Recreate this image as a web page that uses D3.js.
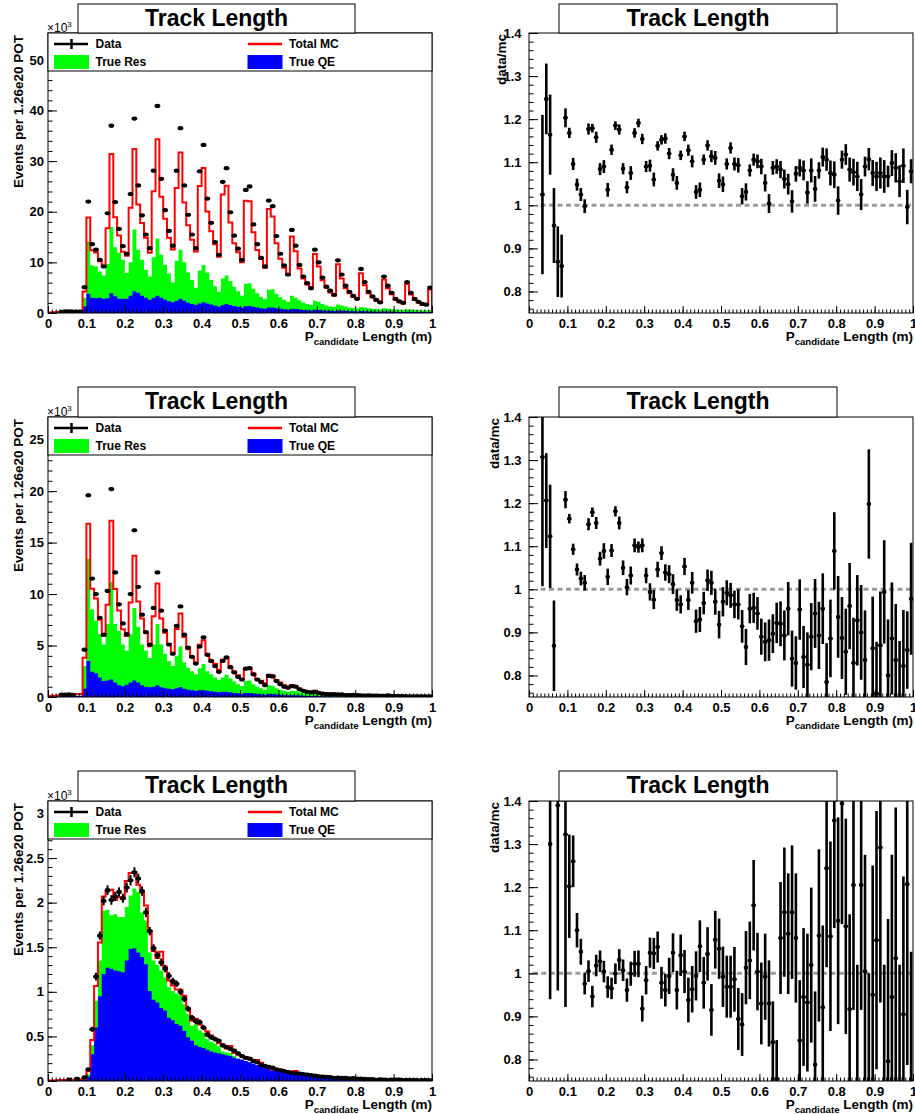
<!DOCTYPE html>
<html><head><meta charset="utf-8">
<script src="https://cdn.jsdelivr.net/npm/d3@7"></script>
<style>
body{margin:0;background:#fff;}
svg{display:block;font-family:"Liberation Sans",Arial,Helvetica,sans-serif;font-weight:bold;}
</style></head><body>
<svg id="c" width="915" height="1114"></svg>
<script>
// ---- binning: 100 bins of track length, 0 to 1 m ----
const binLow = 0, binHigh = 1, binCount = 100;
const xTicks = [0, 0.1, 0.2, 0.3, 0.4, 0.5, 0.6, 0.7, 0.8, 0.9, 1];
const yTicksRatio = [0.8, 0.9, 1, 1.1, 1.2, 1.3, 1.4];
const yTicks1 = [0, 10, 20, 30, 40, 50];
const yTicks2 = [0, 5, 10, 15, 20, 25];
const yTicks3 = [0, 0.5, 1, 1.5, 2, 2.5, 3];
const legendLabels = ["Data", "Total MC", "True Res", "True QE"];
const titleText = "Track Length";

// ---- sample 1 (units of 1e3 events) ----
const data1 = [
 null,null,null,0.21,0.31,0.35,0.29,0.30,0.30,5.1,
 22.0,13.6,12.5,10.5,9.2,19.7,37.0,21.9,16.6,13.2,
 11.7,23.5,38.4,25.2,19.3,15.5,12.8,28.1,40.9,26.5,
 20.3,16.2,13.3,28.1,36.5,25.2,19.4,15.5,12.8,28.0,
 33.2,22.6,17.8,14.0,11.5,25.9,28.6,19.9,15.3,12.7,
 10.5,24.3,25.0,17.5,13.6,10.9,9.2,22.2,21.1,15.2,
 11.7,9.4,7.6,16.4,13.3,9.5,7.2,5.9,4.9,12.5,
 10.0,7.0,5.2,4.4,3.6,10.4,7.6,5.4,4.2,3.4,
 2.8,8.7,6.1,4.2,3.3,2.6,2.1,7.2,5.4,4.0,
 2.8,2.3,2.0,6.1,4.0,2.8,2.2,1.8,1.65,5.0];
const mc1 = [
 0.10,0.15,0.20,0.20,0.25,0.30,0.30,0.35,0.35,4.25,
 18.84,12.41,11.93,10.24,9.22,16.74,31.38,18.91,15.31,12.11,
 11.29,20.81,32.41,21.43,17.79,14.88,11.91,24.06,34.34,22.96,
 18.62,14.84,12.55,24.69,31.68,21.82,17.32,14.47,12.17,25.09,
 28.62,20.04,16.15,13.58,11.10,23.42,25.11,17.86,13.78,12.02,
 10.01,22.17,22.07,15.97,12.44,10.68,8.92,20.54,19.08,13.79,
 10.73,8.94,7.57,15.09,12.20,8.77,6.79,5.62,4.86,11.65,
 9.20,6.48,5.05,4.07,3.47,9.62,6.83,4.88,3.91,3.17,
 2.77,7.87,5.46,3.88,3.06,2.44,2.05,6.61,4.88,3.72,
 2.62,2.14,1.87,5.72,3.64,2.58,2.08,1.65,1.66,4.63];
const res1 = [
 0.02,0.03,0.04,0.05,0.06,0.07,0.08,0.09,0.10,3.0,
 14.1,9.4,9.2,8.2,7.4,9.7,17.0,13.0,11.9,10.5,
 7.9,10.0,16.5,12.5,10.5,8.5,7.2,11.0,14.7,11.5,
 9.5,7.8,6.0,10.3,12.5,10.0,8.0,6.5,5.0,8.4,
 9.5,8.0,6.5,5.3,4.2,6.8,7.4,6.3,5.2,4.3,
 3.4,5.8,5.9,4.8,3.9,3.2,2.7,4.6,4.7,3.8,
 3.1,2.6,2.2,3.4,3.0,2.5,2.0,1.8,1.6,2.4,
 2.2,1.8,1.5,1.3,1.2,1.7,1.5,1.3,1.1,1.0,
 0.9,1.2,1.1,0.95,0.85,0.8,0.7,0.95,0.85,0.75,
 0.7,0.65,0.6,0.75,0.7,0.6,0.55,0.5,0.5,0.6];
const qe1 = [
 0.05,0.08,0.10,0.10,0.12,0.12,0.15,0.15,0.18,1.3,
 3.8,3.0,2.9,3.0,2.8,2.9,3.9,3.3,2.8,2.8,
 2.8,3.4,4.3,4.0,3.4,3.0,2.6,3.0,3.4,3.0,
 2.6,2.3,2.1,2.4,2.8,2.4,2.0,1.8,1.65,1.9,
 2.1,1.9,1.7,1.5,1.3,1.6,1.8,1.6,1.4,1.25,
 1.1,1.35,1.4,1.25,1.1,0.95,0.85,1.1,1.1,0.95,
 0.85,0.75,0.65,0.85,0.8,0.7,0.6,0.55,0.5,0.65,
 0.6,0.5,0.45,0.42,0.4,0.5,0.45,0.4,0.36,0.33,
 0.3,0.38,0.35,0.3,0.28,0.26,0.24,0.3,0.28,0.25,
 0.23,0.21,0.2,0.25,0.23,0.2,0.19,0.18,0.17,0.22];
const ratio1 = [
 null,null,null,1.025,1.247,1.164,0.953,0.869,0.859,1.203,
 1.168,1.096,1.048,1.025,0.998,1.177,1.179,1.158,1.084,1.090,
 1.036,1.129,1.185,1.176,1.085,1.042,1.075,1.168,1.191,1.154,
 1.090,1.092,1.060,1.138,1.152,1.155,1.120,1.071,1.052,1.116,
 1.160,1.128,1.102,1.031,1.036,1.106,1.139,1.114,1.110,1.057,
 1.049,1.096,1.133,1.096,1.093,1.021,1.031,1.081,1.106,1.102,
 1.090,1.052,1.004,1.087,1.090,1.083,1.061,1.049,1.009,1.073,
 1.087,1.081,1.030,1.081,1.038,1.081,1.112,1.106,1.075,1.071,
 1.011,1.106,1.118,1.083,1.077,1.067,1.025,1.090,1.107,1.075,
 1.067,1.075,1.067,1.067,1.098,1.087,1.056,1.092,0.996,1.079];
const ratioErr1 = [
 null,null,null,0.185,0.082,0.093,0.087,0.082,0.073,0.022,
 0.012,0.014,0.014,0.015,0.016,0.013,0.010,0.013,0.014,0.015,
 0.016,0.012,0.010,0.012,0.013,0.014,0.016,0.011,0.010,0.012,
 0.013,0.014,0.016,0.011,0.011,0.012,0.013,0.015,0.016,0.011,
 0.011,0.013,0.014,0.016,0.017,0.012,0.012,0.014,0.016,0.017,
 0.018,0.013,0.013,0.015,0.017,0.019,0.020,0.014,0.014,0.016,
 0.018,0.020,0.022,0.016,0.017,0.020,0.022,0.024,0.026,0.018,
 0.020,0.023,0.026,0.028,0.030,0.019,0.022,0.026,0.029,0.031,
 0.033,0.021,0.024,0.028,0.031,0.034,0.036,0.023,0.026,0.030,
 0.034,0.036,0.038,0.025,0.030,0.034,0.037,0.040,0.040,0.028];

// ---- sample 2 ----
const data2 = [
 null,null,null,0.235,0.24,0.247,0.217,null,null,4.6,
 19.6,11.5,10.0,7.7,6.05,10.3,20.2,12.1,9.0,7.15,
 6.1,10.0,16.2,10.7,8.0,6.3,5.1,8.65,12.1,8.4,
 6.45,5.1,4.2,6.9,8.8,6.05,4.8,3.9,3.25,4.9,
 5.8,4.1,3.5,3.0,2.45,3.5,3.85,2.9,2.4,1.95,
 1.7,2.75,2.8,2.2,1.7,1.45,1.15,2.05,2.0,1.55,
 1.25,1.0,0.9,1.05,1.0,0.75,0.6,0.5,0.45,0.5,
 0.4,0.32,0.28,0.276,0.274,0.268,0.258,0.188,0.195,0.218,
 0.178,0.169,0.145,0.154,0.124,0.13,0.117,0.1,0.156,0.095,
 0.076,0.087,0.089,0.072,0.071,0.067,0.052,0.058,0.06,0.059];
const mc2 = [
 0.10,0.12,0.15,0.18,0.20,0.22,0.25,0.28,0.30,3.81,
 16.84,10.52,9.56,7.51,5.96,8.95,17.13,10.49,8.40,6.57,
 5.93,9.17,13.72,9.27,7.62,6.27,4.94,7.85,11.02,7.62,
 6.25,5.13,4.30,6.60,8.12,5.82,4.64,3.85,3.33,5.08,
 5.51,4.21,3.45,3.24,2.63,3.62,3.77,2.86,2.47,2.12,
 1.75,2.77,2.84,2.28,1.76,1.59,1.33,2.15,2.09,1.64,
 1.40,1.14,1.02,1.17,1.08,0.82,0.67,0.52,0.54,0.60,
 0.42,0.38,0.34,0.31,0.29,0.30,0.27,0.24,0.22,0.20,
 0.19,0.19,0.17,0.16,0.15,0.14,0.13,0.12,0.13,0.11,
 0.10,0.10,0.09,0.09,0.08,0.08,0.07,0.07,0.07,0.06];
const res2 = [
 0.03,0.04,0.05,0.06,0.07,0.08,0.09,0.10,0.11,3.0,
 13.4,8.5,7.4,6.1,5.1,7.1,11.2,7.1,6.4,5.1,
 4.5,6.1,8.65,6.8,5.1,4.5,3.8,5.1,7.1,5.1,
 4.2,3.5,3.0,4.0,4.9,3.35,2.85,2.5,2.2,2.8,
 3.2,2.5,2.2,1.9,1.65,1.9,2.15,1.8,1.5,1.25,
 1.07,1.55,1.6,1.25,1.0,0.85,0.7,1.15,1.1,0.85,
 0.7,0.6,0.52,0.6,0.58,0.45,0.38,0.32,0.3,0.33,
 0.25,0.23,0.2,0.18,0.17,0.17,0.15,0.14,0.13,0.12,
 0.11,0.11,0.1,0.09,0.09,0.08,0.075,0.07,0.07,0.065,
 0.06,0.06,0.055,0.05,0.05,0.045,0.045,0.04,0.04,0.035];
const qe2 = [
 0.05,0.06,0.07,0.08,0.09,0.10,0.10,0.11,0.12,0.8,
 3.5,2.45,2.3,1.9,1.55,1.6,1.7,1.4,1.15,1.05,
 1.2,1.4,1.6,1.4,1.15,1.0,0.95,1.0,1.15,0.95,
 0.85,0.8,0.75,0.85,0.98,0.8,0.7,0.65,0.6,0.65,
 0.65,0.6,0.55,0.5,0.45,0.5,0.52,0.45,0.4,0.36,
 0.32,0.38,0.38,0.33,0.29,0.26,0.23,0.3,0.28,0.24,
 0.21,0.18,0.16,0.18,0.17,0.14,0.12,0.1,0.1,0.11,
 0.08,0.075,0.07,0.065,0.06,0.06,0.055,0.05,0.045,0.04,
 0.04,0.04,0.035,0.035,0.03,0.03,0.03,0.025,0.025,0.025,
 0.02,0.02,0.02,0.02,0.02,0.018,0.018,0.016,0.016,0.015];
const ratio2 = [
 null,null,null,1.307,1.206,1.123,0.869,null,null,1.208,
 1.164,1.093,1.046,1.025,1.015,1.151,1.179,1.154,1.071,1.089,
 1.029,1.090,1.181,1.154,1.050,1.005,1.032,1.102,1.098,1.102,
 1.032,0.994,0.976,1.046,1.084,1.039,1.035,1.012,0.975,0.965,
 1.053,0.975,1.015,0.926,0.930,0.968,1.021,1.015,0.971,0.918,
 0.971,0.992,0.986,0.965,0.965,0.914,0.866,0.955,0.957,0.944,
 0.890,0.878,0.882,0.897,0.922,0.920,0.893,0.955,0.839,0.829,
 0.953,0.843,0.825,0.890,0.944,0.893,0.955,0.785,0.886,1.089,
 0.936,0.887,0.855,0.961,0.829,0.928,0.900,0.836,1.198,0.863,
 0.758,0.870,0.994,0.800,0.886,0.836,0.740,0.822,0.859,0.978];
const ratioErr2 = [
 null,null,null,0.30,0.11,0.12,0.105,null,null,0.02,
 0.011,0.013,0.014,0.016,0.018,0.014,0.011,0.014,0.016,0.018,
 0.019,0.015,0.012,0.015,0.017,0.019,0.021,0.016,0.013,0.016,
 0.018,0.020,0.022,0.018,0.016,0.019,0.021,0.023,0.025,0.021,
 0.020,0.023,0.025,0.027,0.029,0.026,0.025,0.028,0.030,0.032,
 0.034,0.029,0.029,0.032,0.035,0.038,0.042,0.034,0.035,0.038,
 0.042,0.045,0.048,0.045,0.047,0.052,0.058,0.062,0.065,0.062,
 0.070,0.072,0.075,0.078,0.080,0.078,0.082,0.090,0.090,0.090,
 0.095,0.095,0.100,0.100,0.105,0.105,0.110,0.115,0.127,0.120,
 0.120,0.125,0.120,0.130,0.130,0.130,0.140,0.130,0.090,0.130];

// ---- sample 3 ----
const data3 = [
 null,null,null,null,null,0.017,null,0.024,null,0.04,
 0.13,0.58,1.17,1.63,2.02,2.14,2.03,2.07,2.12,2.05,
 2.17,2.25,2.34,2.27,2.13,1.89,1.68,1.49,1.41,1.33,
 1.26,1.18,1.12,1.09,1.0,0.92,0.81,0.71,0.67,0.66,
 0.6,0.52,0.49,0.47,0.45,0.40,0.38,0.36,0.34,0.31,
 0.28,0.26,0.25,0.225,0.21,0.18,0.17,0.16,0.15,0.13,
 0.12,0.11,0.10,0.09,0.085,0.082,0.078,0.072,0.066,0.061,
 0.051,0.05,0.047,0.045,0.035,0.039,0.034,0.035,0.030,0.033,
 0.028,0.028,0.024,0.020,0.022,0.013,0.019,0.017,0.011,0.015,
 0.015,0.016,0.009,0.010,0.011,0.011,0.008,0.010,0.011,0.007];
const mc3 = [
 0.005,0.006,0.008,0.010,0.012,0.013,0.015,0.017,0.020,0.030,
 0.108,0.46,1.064,1.552,2.07,2.129,2.146,2.033,2.062,2.042,
 2.242,2.332,2.342,2.202,2.115,1.967,1.682,1.458,1.380,1.449,
 1.280,1.126,1.071,1.027,1.022,0.957,0.815,0.677,0.697,0.633,
 0.598,0.554,0.509,0.473,0.423,0.409,0.364,0.393,0.315,0.293,
 0.282,0.268,0.258,0.228,0.235,0.204,0.168,0.155,0.130,0.129,
 0.129,0.111,0.108,0.107,0.113,0.076,0.068,0.066,0.058,0.056,
 0.060,0.053,0.050,0.044,0.045,0.036,0.037,0.028,0.028,0.024,
 0.025,0.020,0.022,0.022,0.018,0.018,0.016,0.017,0.016,0.016,
 0.014,0.012,0.012,0.013,0.012,0.011,0.011,0.011,0.009,0.009];
const res3 = [
 0.003,0.004,0.005,0.006,0.007,0.008,0.009,0.010,0.012,0.02,
 0.075,0.40,0.90,1.35,1.91,1.92,1.86,1.87,1.84,1.84,
 1.95,2.08,2.16,2.12,1.89,1.80,1.44,1.35,1.30,1.24,
 1.16,1.05,1.01,0.98,0.96,0.86,0.75,0.62,0.64,0.57,
 0.54,0.47,0.44,0.42,0.39,0.33,0.32,0.31,0.28,0.25,
 0.23,0.22,0.21,0.19,0.17,0.15,0.13,0.12,0.11,0.10,
 0.094,0.088,0.082,0.077,0.072,0.066,0.060,0.056,0.052,0.048,
 0.045,0.042,0.039,0.036,0.034,0.031,0.029,0.027,0.025,0.023,
 0.021,0.020,0.019,0.018,0.017,0.016,0.015,0.014,0.013,0.012,
 0.012,0.011,0.011,0.010,0.010,0.009,0.009,0.009,0.008,0.008];
const qe3 = [
 0.002,0.003,0.004,0.005,0.006,0.007,0.008,0.009,0.010,0.015,
 0.05,0.30,0.60,0.95,1.20,1.27,1.26,1.24,1.23,1.22,
 1.35,1.48,1.49,1.44,1.39,1.31,1.01,0.91,0.88,0.82,
 0.79,0.71,0.68,0.64,0.62,0.56,0.49,0.45,0.40,0.38,
 0.37,0.35,0.33,0.32,0.31,0.30,0.29,0.28,0.26,0.25,
 0.24,0.225,0.21,0.195,0.18,0.17,0.155,0.145,0.135,0.125,
 0.12,0.11,0.105,0.10,0.094,0.088,0.082,0.077,0.072,0.068,
 0.064,0.060,0.056,0.052,0.048,0.045,0.042,0.039,0.036,0.033,
 0.030,0.028,0.026,0.024,0.022,0.020,0.019,0.018,0.017,0.016,
 0.015,0.014,0.013,0.012,0.011,0.010,0.010,0.009,0.009,0.008];
const ratio3 = [
 null,null,null,null,null,1.30,null,1.39,null,1.322,
 1.202,1.26,1.10,1.05,0.976,1.005,0.946,1.018,1.028,1.004,
 0.968,0.965,0.999,1.031,1.007,0.961,0.999,1.022,1.022,0.918,
 0.984,1.048,1.046,1.061,0.978,0.961,0.994,1.048,0.961,1.042,
 1.004,0.938,0.963,0.994,1.063,0.978,1.045,0.915,1.078,1.057,
 0.992,0.969,0.969,0.986,0.894,0.881,1.013,1.030,1.158,1.004,
 0.930,0.992,0.930,0.840,0.755,1.082,1.142,1.092,1.142,1.082,
 0.844,0.945,0.932,1.019,0.788,1.088,0.921,1.244,1.086,1.355,
 1.122,1.394,1.109,0.917,1.205,0.720,1.205,1.005,0.700,0.950,
 1.077,1.292,0.720,0.796,0.945,1.035,0.720,0.905,1.207,0.750];
const ratioErr3 = [
 null,null,null,null,null,0.36,null,0.43,null,0.40,
 0.12,0.06,0.04,0.03,0.025,0.025,0.025,0.025,0.025,0.025,
 0.025,0.025,0.024,0.025,0.025,0.027,0.028,0.030,0.031,0.030,
 0.033,0.035,0.036,0.036,0.037,0.038,0.042,0.045,0.045,0.048,
 0.050,0.052,0.054,0.057,0.060,0.060,0.062,0.060,0.067,0.070,
 0.070,0.072,0.072,0.075,0.072,0.073,0.085,0.090,0.105,0.090,
 0.095,0.100,0.100,0.095,0.090,0.130,0.150,0.140,0.155,0.150,
 0.140,0.160,0.160,0.180,0.170,0.200,0.190,0.230,0.220,0.250,
 0.240,0.280,0.250,0.220,0.290,0.300,0.290,0.270,0.300,0.300,
 0.300,0.360,0.300,0.330,0.330,0.350,0.300,0.320,0.420,0.300];

// ---- page layout ----
const layout = {
  rowTop: [33, 417, 801],
  plotH: 280,
  left: [48, 432],
  right: [529, 913],
  titleTop: [4, 387, 771],
  leftTitleBox: [78, 355],
  rightTitleBox: [559, 837],
  ratioTitleX: [506, 499, 499],
  dashStart: [0.03, 0.03, 0.01]
};
const panels = [
  { data: data1, mc: mc1, res: res1, qe: qe1, ratio: ratio1, err: ratioErr1, yMax: 55.3, yTicks: yTicks1, yMinor: 2 },
  { data: data2, mc: mc2, res: res2, qe: qe2, ratio: ratio2, err: ratioErr2, yMax: 27.2, yTicks: yTicks2, yMinor: 1 },
  { data: data3, mc: mc3, res: res3, qe: qe3, ratio: ratio3, err: ratioErr3, yMax: 3.14, yTicks: yTicks3, yMinor: 0.1 }
];

const svg = d3.select("#c");
const fmt = d3.format("~g");
const binW = (binHigh - binLow) / binCount;
const binLo = i => binLow + i * binW;

function styleAxis(g, size) {
  g.select(".domain").remove();
  g.selectAll("line").attr("stroke", "#000").attr("stroke-width", 1);
  g.selectAll("text").attr("font-size", size).attr("font-weight", "bold")
    .attr("font-family", '"Liberation Sans", Arial, sans-serif').attr("fill", "#000");
}

function drawAxes(g, x, y, yMajor, yMinorVals, bottom, x0, yPad) {
  const xMinor = d3.range(0, binCount + 1).map(binLo);
  g.append("g").attr("transform", `translate(0,${bottom})`)
    .call(d3.axisBottom(x).tickValues(xMinor).tickSize(-3.5).tickFormat(""))
    .call(a => styleAxis(a, 13));
  g.append("g").attr("transform", `translate(0,${bottom})`)
    .call(d3.axisBottom(x).tickValues(xTicks).tickSize(-7).tickPadding(5.5).tickFormat(fmt))
    .call(a => styleAxis(a, 13));
  g.append("g").attr("transform", `translate(${x0},0)`)
    .call(d3.axisLeft(y).tickValues(yMinorVals).tickSize(-4.5).tickFormat(""))
    .call(a => styleAxis(a, 13));
  g.append("g").attr("transform", `translate(${x0},0)`)
    .call(d3.axisLeft(y).tickValues(yMajor).tickSize(-9).tickPadding(yPad).tickFormat(fmt))
    .call(a => styleAxis(a, 13));
}

function titleBox(g, x0, x1, top, bottom) {
  g.append("rect").attr("x", x0).attr("y", top).attr("width", x1 - x0).attr("height", bottom - top)
    .attr("fill", "#fff").attr("stroke", "#000").attr("stroke-width", 1);
  g.append("text").attr("x", (x0 + x1) / 2).attr("y", top + 21.5).attr("text-anchor", "middle")
    .attr("font-size", 23).attr("font-weight", "bold").text(titleText);
}

function xTitle(g, xEnd, bottom) {
  const t = g.append("text").attr("x", xEnd).attr("y", bottom + 27.5).attr("text-anchor", "end")
    .attr("font-size", 13.5).attr("font-weight", "bold");
  t.append("tspan").text("P");
  t.append("tspan").attr("font-size", 9.6).attr("dy", 4).text("candidate");
  t.append("tspan").attr("dy", -4).text(" Length (m)");
}

function drawMarker(g, xc, xl, xr, yc, ylo, yhi, rx, ry, sw) {
  g.append("line").attr("x1", xl).attr("x2", xr).attr("y1", yc).attr("y2", yc)
    .attr("stroke", "#000").attr("stroke-width", sw);
  g.append("line").attr("x1", xc).attr("x2", xc).attr("y1", ylo).attr("y2", yhi)
    .attr("stroke", "#000").attr("stroke-width", sw);
  g.append("ellipse").attr("cx", xc).attr("cy", yc).attr("rx", rx).attr("ry", ry).attr("fill", "#000");
}

panels.forEach((p, r) => {
  const top = layout.rowTop[r], bottom = top + layout.plotH;

  // ===== left: MC components, total MC and data =====
  {
    const [x0, x1] = layout.left;
    const x = d3.scaleLinear().domain([binLow, binHigh]).range([x0, x1]);
    const y = d3.scaleLinear().domain([0, p.yMax]).range([bottom, top]);
    const g = svg.append("g");
    const clipId = "clipL" + r;
    g.append("clipPath").attr("id", clipId).append("rect")
      .attr("x", x0).attr("y", top).attr("width", x1 - x0).attr("height", bottom - top);
    const plot = g.append("g").attr("clip-path", `url(#${clipId})`);

    const pts = vals => vals.map((v, i) => [binLo(i), v]).concat([[binHigh, vals[vals.length - 1]]]);
    const area = d3.area().curve(d3.curveStepAfter).x(d => x(d[0])).y0(y(0)).y1(d => y(d[1]));
    plot.append("path").attr("d", area(pts(p.res))).attr("fill", "#00ff00");
    plot.append("path").attr("d", area(pts(p.qe))).attr("fill", "#0000ff");
    const line = d3.line().curve(d3.curveStepAfter).x(d => x(d[0])).y(d => y(d[1]));
    const mcPts = [[binLow, 0]].concat(pts(p.mc)).concat([[binHigh, 0]]);
    plot.append("path").attr("d", line(mcPts)).attr("fill", "none")
      .attr("stroke", "#ff0000").attr("stroke-width", 2);

    // data points with statistical error bars
    const dg = plot.append("g");
    p.data.forEach((v, i) => {
      if (v == null) return;
      const e = (p.err[i] || 0) * p.mc[i];
      drawMarker(dg, x(binLo(i) + binW / 2), x(binLo(i)), x(binLo(i + 1)), y(v), y(v - e), y(v + e), 2.9, 2.1, 2);
    });

    const yMinorVals = d3.range(0, p.yMax, p.yMinor);
    drawAxes(g, x, y, p.yTicks, yMinorVals, bottom, x0, 4);
    g.append("rect").attr("x", x0).attr("y", top).attr("width", x1 - x0).attr("height", bottom - top)
      .attr("fill", "none").attr("stroke", "#000").attr("stroke-width", 1);

    // legend
    const lg = g.append("g");
    lg.append("rect").attr("x", x0).attr("y", top).attr("width", x1 - x0).attr("height", 38)
      .attr("fill", "#fff").attr("stroke", "#000").attr("stroke-width", 1);
    const r1 = top + 11, r2 = top + 29;
    lg.append("line").attr("x1", 54).attr("x2", 88).attr("y1", r1).attr("y2", r1).attr("stroke", "#000").attr("stroke-width", 2.5);
    lg.append("line").attr("x1", 71.5).attr("x2", 71.5).attr("y1", r1 - 5).attr("y2", r1 + 5).attr("stroke", "#000").attr("stroke-width", 2.5);
    lg.append("line").attr("x1", 248).attr("x2", 282).attr("y1", r1).attr("y2", r1).attr("stroke", "#ff0000").attr("stroke-width", 2.5);
    lg.append("rect").attr("x", 54).attr("y", r2 - 7).attr("width", 35).attr("height", 14).attr("fill", "#00ff00");
    lg.append("rect").attr("x", 247.5).attr("y", r2 - 7).attr("width", 35).attr("height", 14).attr("fill", "#0000ff");
    [[95.5, r1, legendLabels[0]], [289, r1, legendLabels[1]], [95.5, r2, legendLabels[2]], [289, r2, legendLabels[3]]]
      .forEach(([lx, ly, txt]) => lg.append("text").attr("x", lx).attr("y", ly + 4.3)
        .attr("font-size", 12).attr("font-weight", "bold").text(txt));

    // axis titles and exponent
    g.append("text").attr("transform", `translate(22.5,${top + 2}) rotate(-90)`).attr("text-anchor", "end")
      .attr("font-size", 13.5).attr("font-weight", "bold").text("Events per 1.26e20 POT");
    const ex = g.append("text").attr("x", 47).attr("y", top - 1.5).attr("font-size", 12).attr("font-weight", "normal");
    ex.append("tspan").text("\u00d710");
    ex.append("tspan").attr("font-size", 8).attr("dy", -5).text("3");
    xTitle(g, x1, bottom);
    titleBox(g, layout.leftTitleBox[0], layout.leftTitleBox[1], layout.titleTop[r], top);
  }

  // ===== right: data / MC ratio =====
  {
    const [x0, x1] = layout.right;
    const x = d3.scaleLinear().domain([binLow, binHigh]).range([x0, x1]);
    const y = d3.scaleLinear().domain([0.75, 1.4]).range([bottom, top]);
    const g = svg.append("g");
    const clipId = "clipR" + r;
    g.append("clipPath").attr("id", clipId).append("rect")
      .attr("x", x0).attr("y", top).attr("width", x1 - x0).attr("height", bottom - top);
    const plot = g.append("g").attr("clip-path", `url(#${clipId})`);

    plot.append("line").attr("x1", x(layout.dashStart[r])).attr("x2", x1).attr("y1", y(1)).attr("y2", y(1))
      .attr("stroke", "#9a9a9a").attr("stroke-width", 3).attr("stroke-dasharray", "5,3.5");

    const dg = plot.append("g");
    p.ratio.forEach((v, i) => {
      if (v == null) return;
      const e = p.err[i];
      drawMarker(dg, x(binLo(i) + binW / 2), x(binLo(i)), x(binLo(i + 1)), y(v), y(v - e), y(v + e), 2.3, 2, 2.6);
    });

    const yMinorVals = d3.range(0.76, 1.4001, 0.02);
    drawAxes(g, x, y, yTicksRatio, yMinorVals, bottom, x0, 7.5);
    g.append("rect").attr("x", x0).attr("y", top).attr("width", x1 - x0).attr("height", bottom - top)
      .attr("fill", "none").attr("stroke", "#000").attr("stroke-width", 1);

    g.append("text").attr("transform", `translate(${layout.ratioTitleX[r]},${top + 1}) rotate(-90)`)
      .attr("text-anchor", "end").attr("font-size", 13.5).attr("font-weight", "bold").text("data/mc");
    xTitle(g, x1, bottom);
    titleBox(g, layout.rightTitleBox[0], layout.rightTitleBox[1], layout.titleTop[r], top);
  }
});
</script>
</body></html>
